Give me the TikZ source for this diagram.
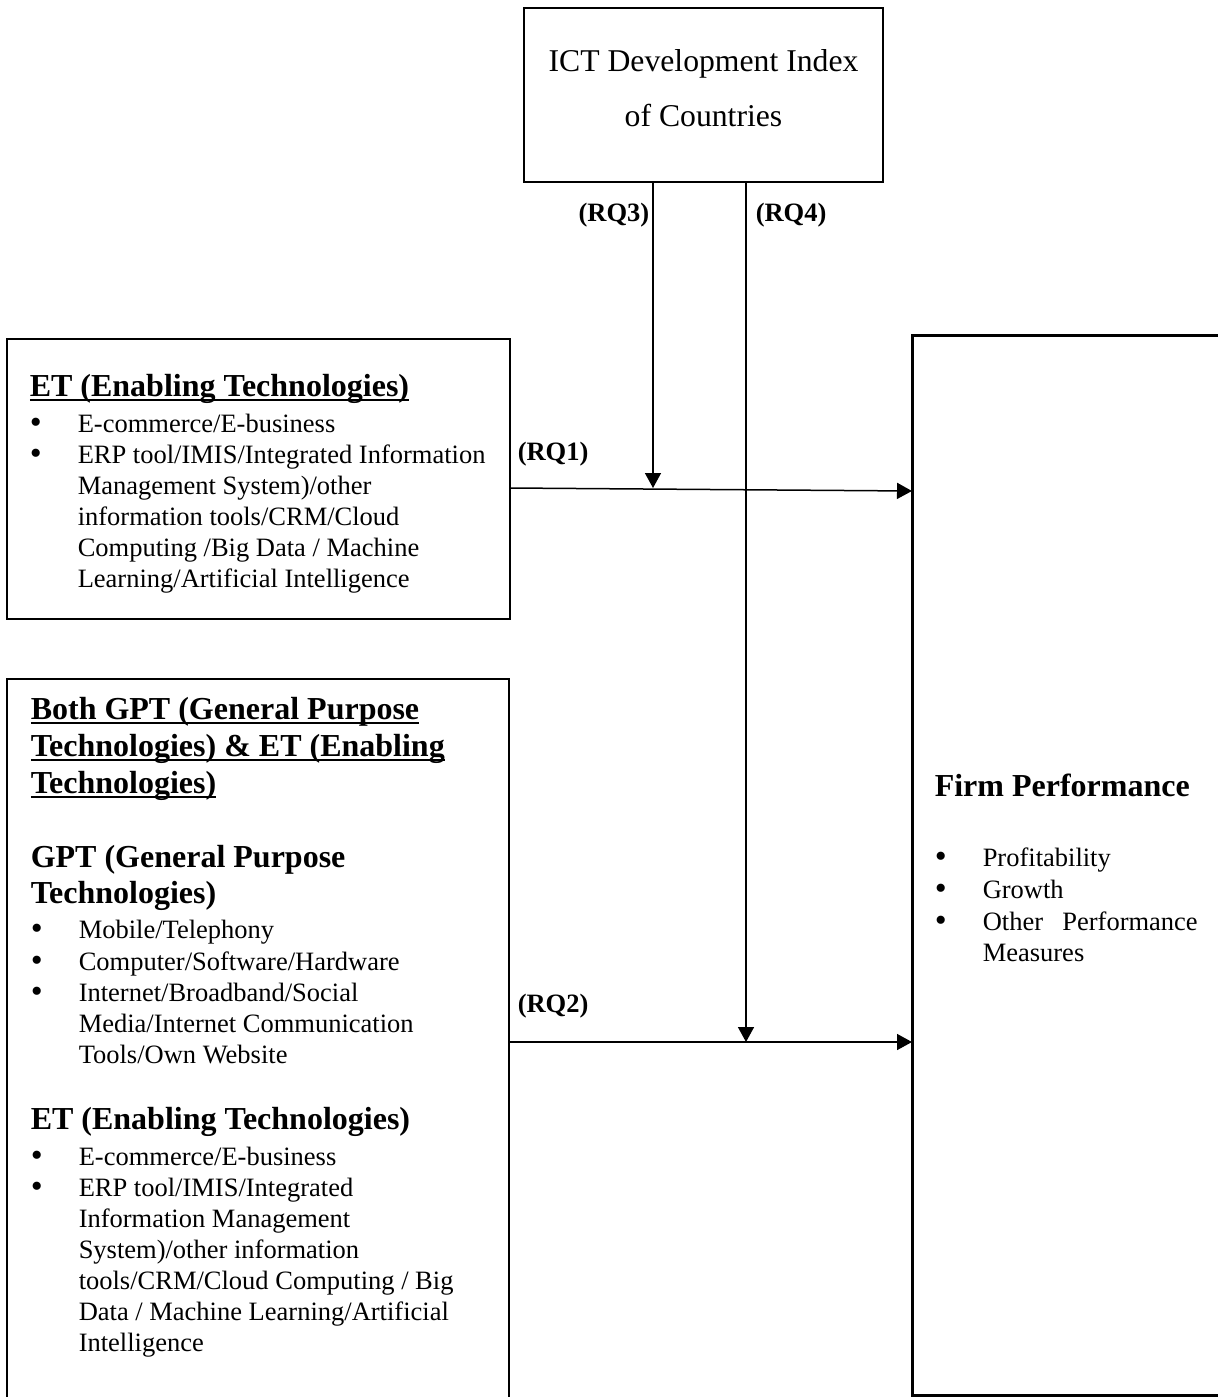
\documentclass[tikz,border=0pt]{standalone}
\usepackage{fontspec}
\setmainfont{Liberation Serif}
\usetikzlibrary{positioning,arrows.meta}

\newcommand{\bodyfont}{\fontsize{13.25}{15.5}\selectfont}
\newcommand{\hdfont}{\fontsize{16}{18.5}\selectfont\bfseries}
\newcommand{\bulitem}{\makebox[24pt][l]{\raisebox{-0.9pt}{\fontsize{17}{17}\selectfont\textbullet}}}
\newcommand{\bulcont}{\hspace*{24pt}}
\newcommand{\hd}[1]{{\hdfont #1}}
\newcommand{\uhd}[1]{{\hdfont\setbox0\hbox{#1}\rlap{\rule[-2.5pt]{\wd0}{1pt}}\box0}}

\begin{document}
\begin{tikzpicture}[-{Triangle[length=7.5pt,width=8pt]}, x=0.5pt, y=-0.5pt, line width=0.75pt,
	box/.style={draw=black, line width=1pt, inner sep=0pt, outer sep=0pt},
	txt/.style={inner sep=0pt, anchor=base west, align=left, font=\bodyfont},
	rq/.style={inner sep=0pt, font=\bodyfont\bfseries}]
			 \useasboundingbox (0,0) rectangle (1217,1397);
			 \node [box, minimum width=179.5pt, minimum height=87pt] (ICT) at (703.5,95) {};
			 \node [box, minimum width=251.5pt, minimum height=140pt] (ET) at (258.5,479) {};
			 \node [box, minimum width=251pt, minimum height=375.5pt] (BOTH) at (258,1054.5) {};
			 \node [box, line width=1.5pt, minimum width=164pt, minimum height=530pt] (FP) at (1076,865) {};
			 % multi-line texts sit on the baseline of their last line
			 \node [inner sep=0pt, anchor=base, align=center, font=\fontsize{15.85}{27.5}\selectfont] (ICTtxt) at (703.5,126) {ICT Development Index\\of Countries};
			 \node [txt] (ETtxt) at (29,587) {\uhd{ET (Enabling Technologies)}\\[2.5pt]
				\bulitem E-commerce/E-business\\
				\bulitem ERP tool/IMIS/Integrated Information\\
				\bulcont Management System)/other\\
				\bulcont information tools/CRM/Cloud\\
				\bulcont Computing /Big Data / Machine\\
				\bulcont Learning/Artificial Intelligence};
			 \node [txt] (BOTHtxt) at (30,1351) {\uhd{Both GPT (General Purpose}\\[3pt]
				\uhd{Technologies) \& ET (Enabling}\\[3pt]
				\uhd{Technologies)}\\[21.5pt]
				\hd{GPT (General Purpose}\\[2.5pt]
				\hd{Technologies)}\\[2pt]
				\bulitem Mobile/Telephony\\[0.5pt]
				\bulitem Computer/Software/Hardware\\
				\bulitem Internet/Broadband/Social\\
				\bulcont Media/Internet Communication\\
				\bulcont Tools/Own Website\\[17.5pt]
				\hd{ET (Enabling Technologies)}\\[2.5pt]
				\bulitem E-commerce/E-business\\
				\bulitem ERP tool/IMIS/Integrated\\
				\bulcont Information Management\\
				\bulcont System)/other information\\
				\bulcont tools/CRM/Cloud Computing / Big\\
				\bulcont Data / Machine Learning/Artificial\\
				\bulcont Intelligence};
			 \node [txt] (FPtxt) at (934,961) {\hd{Firm Performance}\\[19.5pt]
				\bulitem Profitability\\[0.5pt]
				\bulitem Growth\\[0.5pt]
				\bulitem \makebox[107.5pt][l]{Other\hfill Performance}\\
				\bulcont Measures};
			 \coordinate (rq1s) at ([yshift=-4.5pt]ET.east);
			 \coordinate (rq1e) at ([yshift=187pt]FP.west);
			 \coordinate (rq2s) at ([yshift=6.25pt]BOTH.east);
			 \coordinate (rq2e) at (rq2s -| FP.west);
			 \coordinate (rq3s) at ([xshift=-25.25pt]ICT.south);
			 \coordinate (rq3e) at (rq3s |- rq1s);
			 \coordinate (rq4s) at ([xshift=21.25pt]ICT.south);
			 \coordinate (rq4e) at (rq4s |- rq2s);
			 \path (rq1s) edge (rq1e);
			 \path (rq2s) edge (rq2e);
			 \path (rq3s) edge (rq3e);
			 \path (rq4s) edge (rq4e);
			 \node [rq, anchor=base east] (RQ3) at (650,221) {(RQ3)};
			 \node [rq, anchor=base west] (RQ4) at (755,221) {(RQ4)};
			 \node [rq, anchor=base west] (RQ1) at (517,460) {(RQ1)};
			 \node [rq, anchor=base west] (RQ2) at (517,1012) {(RQ2)};
		\end{tikzpicture}
\end{document}
